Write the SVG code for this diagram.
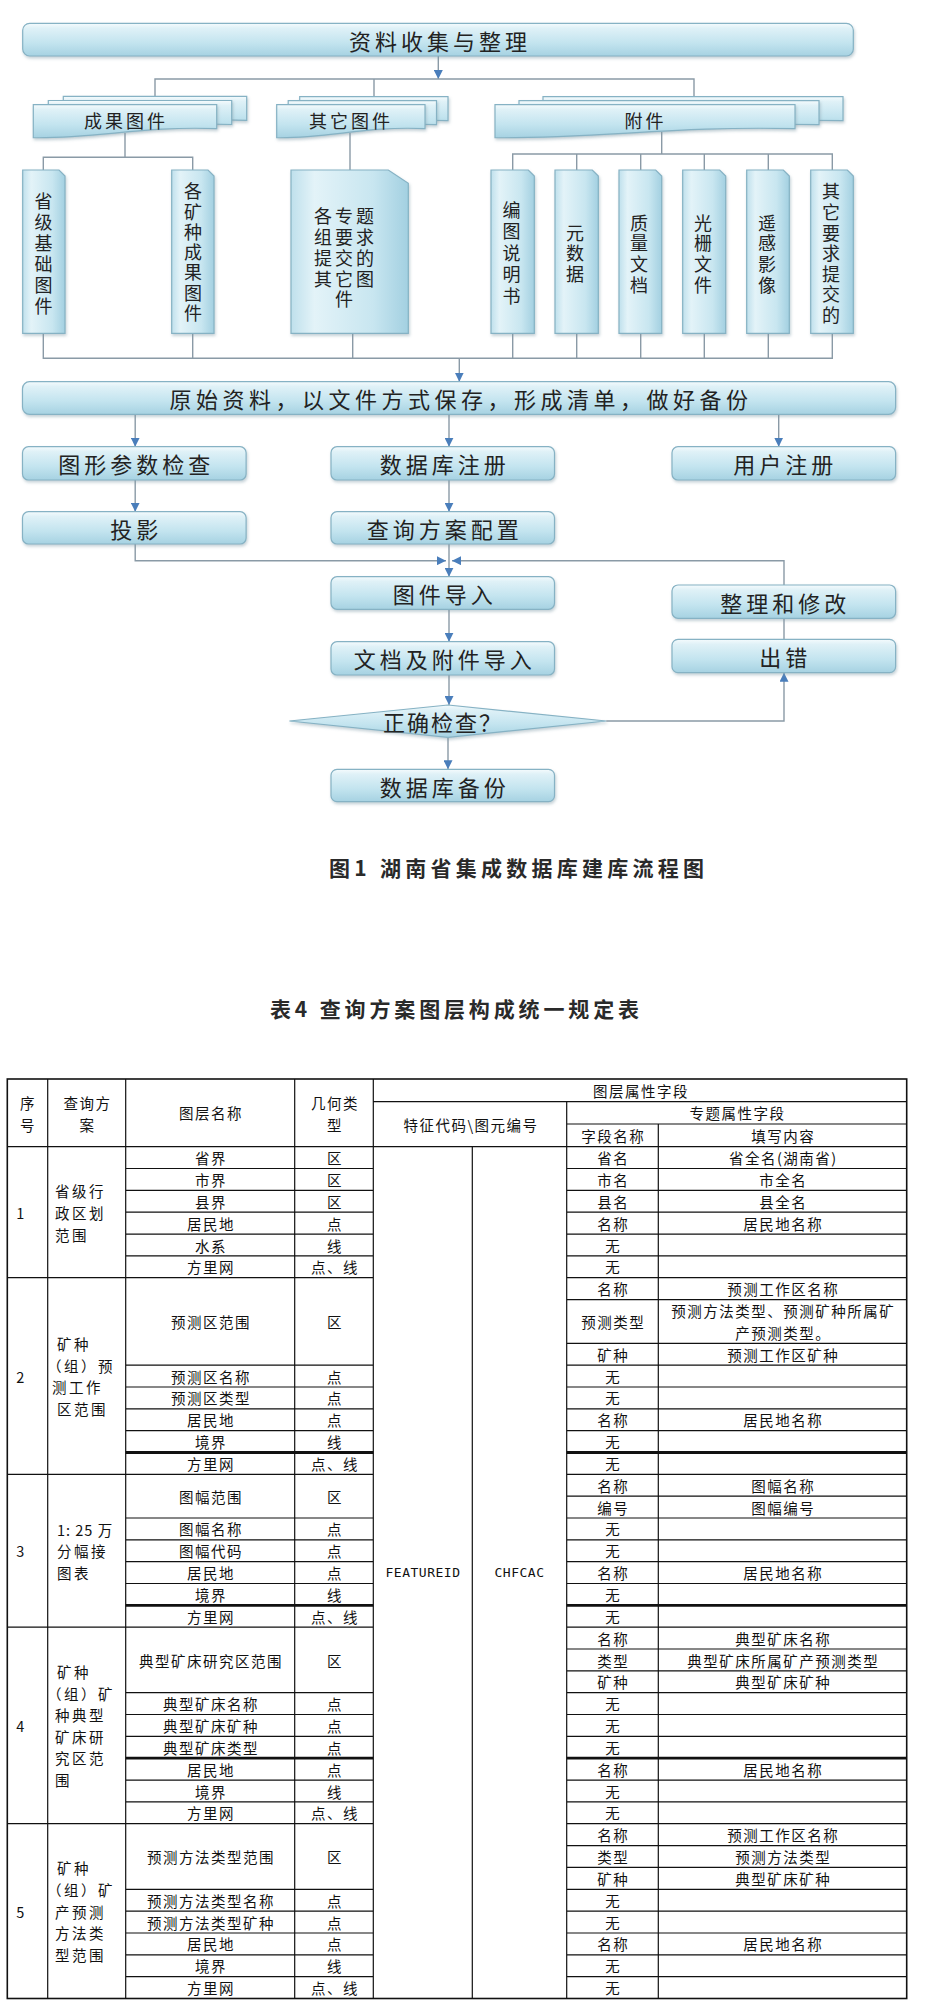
<svg xmlns="http://www.w3.org/2000/svg" width="930" height="2015" viewBox="0 0 930 2015">
<defs>
<style>
.bx{fill:url(#gv);stroke:#86b2c4;stroke-width:1.2;filter:url(#sh)}
.tb{fill:url(#gh);stroke:#86b2c4;stroke-width:1.2;filter:url(#sh)}
.ft{font-family:"Noto Sans CJK SC","Noto Sans",sans-serif;fill:#222;text-anchor:middle;dominant-baseline:central}
.f22{font-size:22px;letter-spacing:4px}
.f18{font-size:18px;letter-spacing:3px}
.fv{font-size:18px;writing-mode:vertical-rl}
.fb{font-size:18px;letter-spacing:3px}
.cn{fill:none;stroke:#8a9aa6;stroke-width:1.4}
.ar{marker-end:url(#ah)}
.tl{fill:none;stroke:#111;stroke-width:1.2}
.tk{fill:none;stroke:#111;stroke-width:2.8}
.tt{font-family:"Noto Sans CJK SC",sans-serif;font-size:14.5px;letter-spacing:1.5px;fill:#111;text-anchor:middle;dominant-baseline:central}
.ts{font-family:"Noto Sans CJK SC",sans-serif;font-size:14.5px;letter-spacing:2.5px;fill:#111;text-anchor:start;dominant-baseline:central}
.tm{font-family:"DejaVu Sans Mono","Liberation Mono",monospace;font-size:13px;letter-spacing:0.5px;fill:#111;text-anchor:middle;dominant-baseline:central}
.cap{font-family:"Noto Sans CJK SC",sans-serif;font-size:21px;font-weight:bold;fill:#2a2a2a;dominant-baseline:central}
</style>
<linearGradient id="gv" x1="0" y1="0" x2="0" y2="1">
<stop offset="0" stop-color="#f5fbfd"/>
<stop offset="0.15" stop-color="#dff1f7"/>
<stop offset="0.6" stop-color="#c3e4ef"/>
<stop offset="1" stop-color="#a6d2e2"/>
</linearGradient>
<linearGradient id="gh" x1="0" y1="0" x2="1" y2="0">
<stop offset="0" stop-color="#bfe0ec"/>
<stop offset="0.2" stop-color="#e3f3f8"/>
<stop offset="0.7" stop-color="#c8e6f0"/>
<stop offset="1" stop-color="#a3d0e1"/>
</linearGradient>
<filter id="sh" x="-10%" y="-10%" width="130%" height="140%">
<feDropShadow dx="1" dy="2" stdDeviation="1.5" flood-color="#7f9aa6" flood-opacity="0.45"/>
</filter>
<marker id="ah" viewBox="0 0 10 10" refX="10" refY="5" markerWidth="9" markerHeight="9" markerUnits="userSpaceOnUse" orient="auto">
<path d="M0,0 L10,5 L0,10 Z" fill="#4a7ebb"/>
</marker>
</defs>
<rect x="0" y="0" width="930" height="2015" fill="#ffffff"/>

<g id="connectors">
<path class="cn ar" d="M438.3,56 V79"/>
<path class="cn" d="M155,96.3 V79 H694 V96.7 M374,79 V96.7"/>
<path class="cn" d="M125,133 V157.3 M43.3,170 V157.3 H192.7 V170"/>
<path class="cn" d="M350,133 V170"/>
<path class="cn" d="M661.7,132 V154 M512.7,170 V154 H832.3 V170 M576.7,154 V170 M640.7,154 V170 M704.3,154 V170 M768.3,154 V170"/>
<path class="cn" d="M43.3,333.3 V358.3 H832.3 V333.3 M192.7,333.3 V358.3 M352.7,333.3 V358.3 M512.7,333.3 V358.3 M576.7,333.3 V358.3 M640.7,333.3 V358.3 M704.3,333.3 V358.3 M768.3,333.3 V358.3"/>
<path class="cn ar" d="M459.3,358.3 V381.7"/>
<path class="cn ar" d="M135.2,414.3 V446.7"/>
<path class="cn ar" d="M449,414.3 V446.7"/>
<path class="cn ar" d="M778.7,414.3 V446.7"/>
<path class="cn ar" d="M135.2,480 V511.7"/>
<path class="cn ar" d="M449,480 V511.7"/>
<path class="cn ar" d="M135.2,544 V560.7 H446"/>
<path class="cn ar" d="M784,585 V560.7 H452"/>
<path class="cn ar" d="M449,544 V576.7"/>
<path class="cn ar" d="M449,609.3 V641.7"/>
<path class="cn" d="M784,618.3 V639.3"/>
<path class="cn ar" d="M449,675 V705"/>
<path class="cn ar" d="M606.2,721 H784 V672.7"/>
<path class="cn ar" d="M448,737.3 V769.3"/>
</g>

<g id="n-top">
<rect class="bx" x="22.7" y="23.3" width="830.6" height="32.7" rx="7"/>
<text class="ft f22" x="440" y="40">资料收集与整理</text>
</g>

<g id="n-chengguo">
<path class="bx" d="M63.3,96.3 H246.7 V120.3 C173.3,117.3 127.5,130.3 63.3,129.3 Z"/>
<path class="bx" d="M48.3,100.5 H231.7 V124.5 C158.3,121.5 112.5,134.5 48.3,133.5 Z"/>
<path class="bx" d="M33.3,104.7 H216.7 V128.7 C143.3,125.7 97.5,138.7 33.3,137.7 Z"/>
<text class="ft f18" x="126" y="120">成果图件</text>
</g>

<g id="n-qita">
<path class="bx" d="M299.7,96.7 H448 V120.7 C388.7,117.7 351.6,130.7 299.7,129.7 Z"/>
<path class="bx" d="M288.2,100.7 H436.5 V124.7 C377.2,121.7 340.1,134.7 288.2,133.7 Z"/>
<path class="bx" d="M276.7,104.7 H425 V128.7 C365.7,125.7 328.6,138.7 276.7,137.7 Z"/>
<text class="ft f18" x="351" y="120">其它图件</text>
</g>

<g id="n-fujian">
<path class="bx" d="M543,96.7 H843 V120.7 C723,117.7 648,130.7 543,129.7 Z"/>
<path class="bx" d="M519,100.7 H819 V124.7 C699,121.7 624,134.7 519,133.7 Z"/>
<path class="bx" d="M495,104.7 H795 V128.7 C675,125.7 600,138.7 495,137.7 Z"/>
<text class="ft f18" x="645.5" y="120">附件</text>
</g>

<g id="n-shengji">
<path class="tb" d="M22.7,170 H59 L65,176 V333.3 H22.7 Z"/>
<text class="ft fv" x="43.6" y="255" style="letter-spacing:3px">省级基础图件</text>
</g>

<g id="n-gekuang">
<path class="tb" d="M171.7,170 H208 L214,176 V333.3 H171.7 Z"/>
<text class="ft fv" x="193" y="253.5" style="letter-spacing:2.3px">各矿种成果图件</text>
</g>

<g id="n-zhuanti">
<path class="tb" d="M291,170 H388.3 L408.3,183.3 V333.3 H291 Z"/>
<text class="ft fb" x="345.5" y="215">各专题</text>
<text class="ft fb" x="345.5" y="236">组要求</text>
<text class="ft fb" x="345.5" y="257">提交的</text>
<text class="ft fb" x="345.5" y="277.5">其它图</text>
<text class="ft fb" x="345.5" y="298">件</text>
</g>

<g id="n-biantu">
<path class="tb" d="M491,170 H528.3 L534.3,176 V333.3 H491 Z"/>
<text class="ft fv" x="511.5" y="254.7" style="letter-spacing:3.5px">编图说明书</text>
</g>

<g id="n-yuanshuju">
<path class="tb" d="M555,170 H592.3 L598.3,176 V333.3 H555 Z"/>
<text class="ft fv" x="575" y="254.7" style="letter-spacing:2.5px">元数据</text>
</g>

<g id="n-zhiliang">
<path class="tb" d="M619,170 H655.7 L661.7,176 V333.3 H619 Z"/>
<text class="ft fv" x="639" y="255.3" style="letter-spacing:2.8px">质量文档</text>
</g>

<g id="n-guangshan">
<path class="tb" d="M682.7,170 H719.7 L725.7,176 V333.3 H682.7 Z"/>
<text class="ft fv" x="703" y="255.3" style="letter-spacing:2.8px">光栅文件</text>
</g>

<g id="n-yaogan">
<path class="tb" d="M746.7,170 H783.3 L789.3,176 V333.3 H746.7 Z"/>
<text class="ft fv" x="767" y="255.3" style="letter-spacing:2.8px">遥感影像</text>
</g>

<g id="n-qitayaoqiu">
<path class="tb" d="M810.7,170 H847.3 L853.3,176 V333.3 H810.7 Z"/>
<text class="ft fv" x="831" y="254.6" style="letter-spacing:2.55px">其它要求提交的</text>
</g>

<g id="n-yuanshi">
<rect class="bx" x="22.5" y="381.7" width="873.1" height="32.6" rx="7"/>
<text class="ft f22" x="461" y="398" style="letter-spacing:4.5px">原始资料，以文件方式保存，形成清单，做好备份</text>
</g>

<g id="n-tuxing">
<rect class="bx" x="22.5" y="446.7" width="223.6" height="33.3" rx="6"/>
<text class="ft f22" x="136.3" y="463.3">图形参数检查</text>
</g>
<g id="n-shujukuzhuce">
<rect class="bx" x="331" y="446.7" width="223.5" height="33.3" rx="6"/>
<text class="ft f22" x="444.7" y="463.3">数据库注册</text>
</g>
<g id="n-yonghu">
<rect class="bx" x="672" y="446.7" width="223.6" height="33.3" rx="6"/>
<text class="ft f22" x="785.3" y="463.3">用户注册</text>
</g>
<g id="n-touying">
<rect class="bx" x="22.5" y="511.7" width="223.6" height="32.3" rx="6"/>
<text class="ft f22" x="136.3" y="527.8">投影</text>
</g>
<g id="n-chaxun">
<rect class="bx" x="331" y="511.7" width="223.5" height="32.3" rx="6"/>
<text class="ft f22" x="444.7" y="527.8">查询方案配置</text>
</g>
<g id="n-tujian">
<rect class="bx" x="331" y="576.7" width="223.5" height="32.6" rx="6"/>
<text class="ft f22" x="444.7" y="593">图件导入</text>
</g>
<g id="n-zhengli">
<rect class="bx" x="672" y="585" width="223.6" height="33.3" rx="6"/>
<text class="ft f22" x="785.3" y="601.7">整理和修改</text>
</g>
<g id="n-wendang">
<rect class="bx" x="331" y="641.7" width="223.5" height="33.3" rx="6"/>
<text class="ft f22" x="444.7" y="658.3">文档及附件导入</text>
</g>
<g id="n-chucuo">
<rect class="bx" x="672" y="639.3" width="223.6" height="33.4" rx="6"/>
<text class="ft f22" x="785.3" y="656">出错</text>
</g>
<g id="n-check">
<polygon class="bx" points="289.4,721 448,705 606.2,721 448,737.3"/>
<text class="ft f22" x="443" y="721" style="letter-spacing:2px">正确检查？</text>
</g>
<g id="n-beifen">
<rect class="bx" x="331" y="769.3" width="223.5" height="32.4" rx="6"/>
<text class="ft f22" x="444.7" y="785.5">数据库备份</text>
</g>

<text class="cap" x="329" y="866.7" textLength="375" lengthAdjust="spacing">图1  湖南省集成数据库建库流程图</text>
<text class="cap" x="270" y="1008.3" textLength="369" lengthAdjust="spacing">表4 查询方案图层构成统一规定表</text>

<g id="table">
<rect x="7.3" y="1079" width="899.4" height="919.5" fill="none" stroke="#111" stroke-width="1.6"/>
<path class="tl" d="M7.3,1146.7 H906.7 M373.3,1101.7 H906.7 M566.7,1124 H906.7
M47.7,1079 V1998.5 M125.7,1079 V1998.5 M294.7,1079 V1998.5 M373.3,1079 V1998.5 M472.3,1146.7 V1998.5 M566.7,1101.7 V1998.5 M658.3,1124 V1998.5
M7.3,1277.7 H373.3 M7.3,1474.3 H373.3 M7.3,1627.2 H373.3 M7.3,1823.7 H373.3
M125.7,1168.5 H373.3 M125.7,1190.4 H373.3 M125.7,1212.2 H373.3 M125.7,1234.1 H373.3 M125.7,1255.9 H373.3
M125.7,1365.1 H373.3 M125.7,1387 H373.3 M125.7,1408.8 H373.3 M125.7,1430.6 H373.3
M125.7,1518 H373.3 M125.7,1539.8 H373.3 M125.7,1561.7 H373.3 M125.7,1583.5 H373.3
M125.7,1692.7 H373.3 M125.7,1714.5 H373.3 M125.7,1736.4 H373.3 M125.7,1780.1 H373.3 M125.7,1801.9 H373.3
M125.7,1889.3 H373.3 M125.7,1911.1 H373.3 M125.7,1933 H373.3 M125.7,1954.8 H373.3 M125.7,1976.6 H373.3
M566.7,1168.5 H906.7 M566.7,1190.4 H906.7 M566.7,1212.2 H906.7 M566.7,1234.1 H906.7 M566.7,1255.9 H906.7 M566.7,1277.7 H906.7
M566.7,1299.6 H906.7 M566.7,1343.3 H906.7 M566.7,1365.1 H906.7 M566.7,1387 H906.7 M566.7,1408.8 H906.7 M566.7,1430.6 H906.7
M566.7,1474.3 H906.7 M566.7,1496.1 H906.7 M566.7,1518 H906.7 M566.7,1539.8 H906.7 M566.7,1561.7 H906.7 M566.7,1583.5 H906.7
M566.7,1627.2 H906.7 M566.7,1649 H906.7 M566.7,1670.9 H906.7 M566.7,1692.7 H906.7 M566.7,1714.5 H906.7 M566.7,1736.4 H906.7
M566.7,1780.1 H906.7 M566.7,1801.9 H906.7 M566.7,1823.7 H906.7 M566.7,1845.6 H906.7 M566.7,1867.4 H906.7 M566.7,1889.3 H906.7
M566.7,1911.1 H906.7 M566.7,1933 H906.7 M566.7,1954.8 H906.7 M566.7,1976.6 H906.7"/>
<path class="tk" d="M125.7,1452.5 H373.3 M566.7,1452.5 H906.7 M125.7,1605.3 H373.3 M566.7,1605.3 H906.7 M125.7,1758.2 H373.3 M566.7,1758.2 H906.7"/>

<text class="tt" x="28" y="1102">序</text>
<text class="tt" x="28" y="1124">号</text>
<text class="tt" x="87.5" y="1102">查询方</text>
<text class="tt" x="87.5" y="1124">案</text>
<text class="tt" x="211" y="1112">图层名称</text>
<text class="tt" x="335" y="1102">几何类</text>
<text class="tt" x="335" y="1124">型</text>
<text class="tt" x="641" y="1090.3">图层属性字段</text>
<text class="tt" x="471" y="1124.2">特征代码\图元编号</text>
<text class="tt" x="737.5" y="1112.8">专题属性字段</text>
<text class="tt" x="613.3" y="1135.3">字段名称</text>
<text class="tt" x="783.3" y="1135.3">填写内容</text>

<text class="tt" x="21" y="1212.2">1</text>
<text class="ts" x="55" y="1190.5">省级行</text>
<text class="ts" x="55" y="1212.2">政区划</text>
<text class="ts" x="55" y="1234">范围</text>
<text class="tt" x="21" y="1376">2</text>
<text class="ts" x="57" y="1343.6">矿种</text>
<text class="ts" x="47" y="1365.2">（组）预</text>
<text class="ts" x="52" y="1386.8">测工作</text>
<text class="ts" x="57" y="1408.4">区范围</text>
<text class="tt" x="21" y="1550.8">3</text>
<text class="ts" x="57" y="1529.2" style="letter-spacing:1px">1: 25 万</text>
<text class="ts" x="57" y="1550.8">分幅接</text>
<text class="ts" x="57" y="1572.4">图表</text>
<text class="tt" x="21" y="1725.5">4</text>
<text class="ts" x="57" y="1671.5">矿种</text>
<text class="ts" x="47" y="1693.1">（组）矿</text>
<text class="ts" x="55" y="1714.7">种典型</text>
<text class="ts" x="55" y="1736.3">矿床研</text>
<text class="ts" x="55" y="1757.9">究区范</text>
<text class="ts" x="55" y="1779.5">围</text>
<text class="tt" x="21" y="1911.1">5</text>
<text class="ts" x="57" y="1867.9">矿种</text>
<text class="ts" x="47" y="1889.5">（组）矿</text>
<text class="ts" x="55" y="1911.1">产预测</text>
<text class="ts" x="55" y="1932.7">方法类</text>
<text class="ts" x="55" y="1954.3">型范围</text>

<text class="tm" x="423" y="1572.6">FEATUREID</text>
<text class="tm" x="519.5" y="1572.6">CHFCAC</text>

<g id="t-left">
<text class="tt" x="211" y="1157.6">省界</text><text class="tt" x="335" y="1157.6">区</text>
<text class="tt" x="211" y="1179.5">市界</text><text class="tt" x="335" y="1179.5">区</text>
<text class="tt" x="211" y="1201.3">县界</text><text class="tt" x="335" y="1201.3">区</text>
<text class="tt" x="211" y="1223.2">居民地</text><text class="tt" x="335" y="1223.2">点</text>
<text class="tt" x="211" y="1245">水系</text><text class="tt" x="335" y="1245">线</text>
<text class="tt" x="211" y="1266.8">方里网</text><text class="tt" x="335" y="1266.8">点、线</text>

<text class="tt" x="211" y="1321.4">预测区范围</text><text class="tt" x="335" y="1321.4">区</text>
<text class="tt" x="211" y="1376">预测区名称</text><text class="tt" x="335" y="1376">点</text>
<text class="tt" x="211" y="1397.9">预测区类型</text><text class="tt" x="335" y="1397.9">点</text>
<text class="tt" x="211" y="1419.7">居民地</text><text class="tt" x="335" y="1419.7">点</text>
<text class="tt" x="211" y="1441.6">境界</text><text class="tt" x="335" y="1441.6">线</text>
<text class="tt" x="211" y="1463.4">方里网</text><text class="tt" x="335" y="1463.4">点、线</text>

<text class="tt" x="211" y="1496.2">图幅范围</text><text class="tt" x="335" y="1496.2">区</text>
<text class="tt" x="211" y="1528.9">图幅名称</text><text class="tt" x="335" y="1528.9">点</text>
<text class="tt" x="211" y="1550.8">图幅代码</text><text class="tt" x="335" y="1550.8">点</text>
<text class="tt" x="211" y="1572.6">居民地</text><text class="tt" x="335" y="1572.6">点</text>
<text class="tt" x="211" y="1594.4">境界</text><text class="tt" x="335" y="1594.4">线</text>
<text class="tt" x="211" y="1616.3">方里网</text><text class="tt" x="335" y="1616.3">点、线</text>

<text class="tt" x="211" y="1660">典型矿床研究区范围</text><text class="tt" x="335" y="1660">区</text>
<text class="tt" x="211" y="1703.6">典型矿床名称</text><text class="tt" x="335" y="1703.6">点</text>
<text class="tt" x="211" y="1725.5">典型矿床矿种</text><text class="tt" x="335" y="1725.5">点</text>
<text class="tt" x="211" y="1747.3">典型矿床类型</text><text class="tt" x="335" y="1747.3">点</text>
<text class="tt" x="211" y="1769.2">居民地</text><text class="tt" x="335" y="1769.2">点</text>
<text class="tt" x="211" y="1791">境界</text><text class="tt" x="335" y="1791">线</text>
<text class="tt" x="211" y="1812.8">方里网</text><text class="tt" x="335" y="1812.8">点、线</text>

<text class="tt" x="211" y="1856.5">预测方法类型范围</text><text class="tt" x="335" y="1856.5">区</text>
<text class="tt" x="211" y="1900.2">预测方法类型名称</text><text class="tt" x="335" y="1900.2">点</text>
<text class="tt" x="211" y="1922">预测方法类型矿种</text><text class="tt" x="335" y="1922">点</text>
<text class="tt" x="211" y="1943.9">居民地</text><text class="tt" x="335" y="1943.9">点</text>
<text class="tt" x="211" y="1965.7">境界</text><text class="tt" x="335" y="1965.7">线</text>
<text class="tt" x="211" y="1987.6">方里网</text><text class="tt" x="335" y="1987.6">点、线</text>
</g>

<g id="t-right">
<text class="tt" x="613.3" y="1157.6">省名</text><text class="tt" x="783.3" y="1157.6">省全名(湖南省)</text>
<text class="tt" x="613.3" y="1179.5">市名</text><text class="tt" x="783.3" y="1179.5">市全名</text>
<text class="tt" x="613.3" y="1201.3">县名</text><text class="tt" x="783.3" y="1201.3">县全名</text>
<text class="tt" x="613.3" y="1223.2">名称</text><text class="tt" x="783.3" y="1223.2">居民地名称</text>
<text class="tt" x="613.3" y="1245">无</text>
<text class="tt" x="613.3" y="1266.8">无</text>

<text class="tt" x="613.3" y="1288.7">名称</text><text class="tt" x="783.3" y="1288.7">预测工作区名称</text>
<text class="tt" x="613.3" y="1321.4">预测类型</text><text class="tt" x="783.3" y="1310.5">预测方法类型、预测矿种所属矿</text><text class="tt" x="783.3" y="1332.3">产预测类型。</text>
<text class="tt" x="613.3" y="1354.2">矿种</text><text class="tt" x="783.3" y="1354.2">预测工作区矿种</text>
<text class="tt" x="613.3" y="1376">无</text>
<text class="tt" x="613.3" y="1397.9">无</text>
<text class="tt" x="613.3" y="1419.7">名称</text><text class="tt" x="783.3" y="1419.7">居民地名称</text>
<text class="tt" x="613.3" y="1441.6">无</text>
<text class="tt" x="613.3" y="1463.4">无</text>

<text class="tt" x="613.3" y="1485.2">名称</text><text class="tt" x="783.3" y="1485.2">图幅名称</text>
<text class="tt" x="613.3" y="1507.1">编号</text><text class="tt" x="783.3" y="1507.1">图幅编号</text>
<text class="tt" x="613.3" y="1528.9">无</text>
<text class="tt" x="613.3" y="1550.8">无</text>
<text class="tt" x="613.3" y="1572.6">名称</text><text class="tt" x="783.3" y="1572.6">居民地名称</text>
<text class="tt" x="613.3" y="1594.4">无</text>
<text class="tt" x="613.3" y="1616.3">无</text>

<text class="tt" x="613.3" y="1638.1">名称</text><text class="tt" x="783.3" y="1638.1">典型矿床名称</text>
<text class="tt" x="613.3" y="1660">类型</text><text class="tt" x="783.3" y="1660">典型矿床所属矿产预测类型</text>
<text class="tt" x="613.3" y="1681.8">矿种</text><text class="tt" x="783.3" y="1681.8">典型矿床矿种</text>
<text class="tt" x="613.3" y="1703.6">无</text>
<text class="tt" x="613.3" y="1725.5">无</text>
<text class="tt" x="613.3" y="1747.3">无</text>
<text class="tt" x="613.3" y="1769.2">名称</text><text class="tt" x="783.3" y="1769.2">居民地名称</text>
<text class="tt" x="613.3" y="1791">无</text>
<text class="tt" x="613.3" y="1812.8">无</text>

<text class="tt" x="613.3" y="1834.7">名称</text><text class="tt" x="783.3" y="1834.7">预测工作区名称</text>
<text class="tt" x="613.3" y="1856.5">类型</text><text class="tt" x="783.3" y="1856.5">预测方法类型</text>
<text class="tt" x="613.3" y="1878.4">矿种</text><text class="tt" x="783.3" y="1878.4">典型矿床矿种</text>
<text class="tt" x="613.3" y="1900.2">无</text>
<text class="tt" x="613.3" y="1922">无</text>
<text class="tt" x="613.3" y="1943.9">名称</text><text class="tt" x="783.3" y="1943.9">居民地名称</text>
<text class="tt" x="613.3" y="1965.7">无</text>
<text class="tt" x="613.3" y="1987.6">无</text>
</g>
</g>
</svg>
